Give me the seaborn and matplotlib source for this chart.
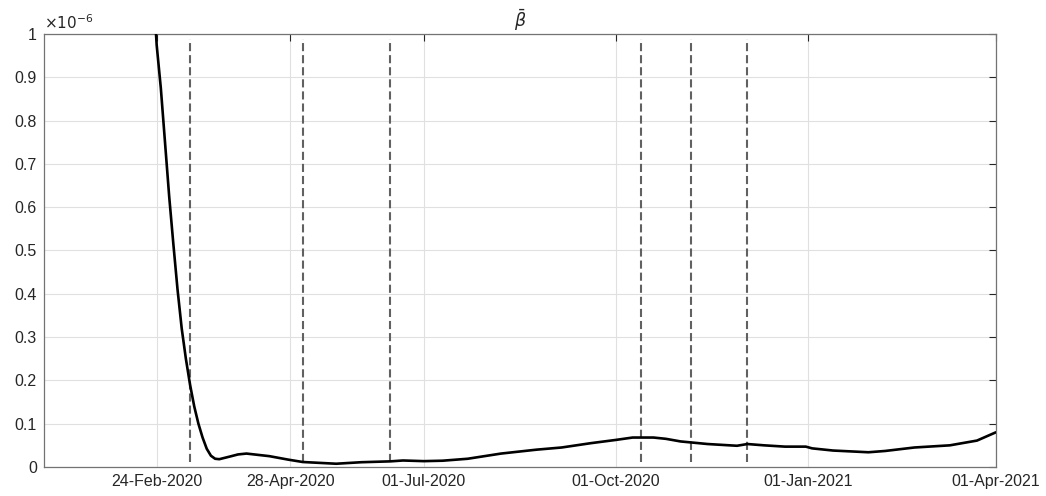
import matplotlib
matplotlib.use("Agg")
import matplotlib.pyplot as plt
import matplotlib.dates as mdates
from matplotlib.ticker import FuncFormatter, MultipleLocator
import pandas as pd
import seaborn as sns

# Estimated time-varying transmission rate (beta bar)
dates = [
    "2020-02-22", "2020-02-24", "2020-02-26", "2020-02-28", "2020-03-01",
    "2020-03-03", "2020-03-05", "2020-03-07", "2020-03-09", "2020-03-11",
    "2020-03-13", "2020-03-15", "2020-03-17", "2020-03-19", "2020-03-21",
    "2020-03-23", "2020-03-25", "2020-03-30", "2020-04-03", "2020-04-07",
    "2020-04-18", "2020-04-27", "2020-05-04", "2020-05-12", "2020-05-20",
    "2020-06-01", "2020-06-15", "2020-06-21", "2020-07-01", "2020-07-10",
    "2020-07-22", "2020-08-07", "2020-08-24", "2020-09-05", "2020-09-19",
    "2020-10-01", "2020-10-09", "2020-10-19", "2020-10-25", "2020-11-01",
    "2020-11-14", "2020-11-28", "2020-12-03", "2020-12-11", "2020-12-21",
    "2020-12-31", "2021-01-03", "2021-01-13", "2021-01-30", "2021-02-07",
    "2021-02-21", "2021-03-10", "2021-03-23", "2021-04-01",
]
beta_bar = [
    1.14e-6, 0.975e-6, 0.875e-6, 0.75e-6, 0.625e-6,
    0.515e-6, 0.41e-6, 0.32e-6, 0.25e-6, 0.19e-6,
    0.14e-6, 0.10e-6, 0.068e-6, 0.042e-6, 0.026e-6,
    0.019e-6, 0.018e-6, 0.024e-6, 0.029e-6, 0.031e-6,
    0.025e-6, 0.017e-6, 0.0115e-6, 0.0095e-6, 0.0075e-6,
    0.011e-6, 0.013e-6, 0.015e-6, 0.0135e-6, 0.0145e-6,
    0.019e-6, 0.031e-6, 0.040e-6, 0.045e-6, 0.055e-6,
    0.0625e-6, 0.068e-6, 0.068e-6, 0.065e-6, 0.059e-6,
    0.053e-6, 0.049e-6, 0.053e-6, 0.050e-6, 0.047e-6,
    0.047e-6, 0.043e-6, 0.038e-6, 0.034e-6, 0.037e-6,
    0.045e-6, 0.050e-6, 0.061e-6, 0.080e-6,
]

# Policy change dates (dashed markers)
event_dates = ["2020-03-11", "2020-05-04", "2020-06-15",
               "2020-10-13", "2020-11-06", "2020-12-03"]

tick_dates = ["2020-02-24", "2020-04-28", "2020-07-01",
              "2020-10-01", "2021-01-01", "2021-04-01"]

df = pd.DataFrame({"date": pd.to_datetime(dates), "beta": beta_bar})

sns.set_theme(style="white")
plt.rcParams["font.family"] = ["Liberation Sans", "DejaVu Sans"]
plt.rcParams["mathtext.fontset"] = "dejavusans"

fig = plt.figure(figsize=(10.46, 4.96), dpi=100)
ax = fig.add_axes([0.042, 0.0585, 0.910, 0.873])

dark = (0.15, 0.15, 0.15)

for d in event_dates:
    ax.axvline(pd.Timestamp(d), ymin=0.012, ymax=0.988,
               color=(0.38, 0.38, 0.38), lw=1.5,
               ls=(0, (3.9, 1.9)), zorder=2)

sns.lineplot(data=df, x="date", y="beta", ax=ax, color="black", lw=1.9,
             zorder=3, legend=False)

ax.set_xlim(pd.Timestamp("2020-01-01"), pd.Timestamp("2021-04-01"))
ax.set_ylim(0, 1e-6)

ax.set_xticks(pd.to_datetime(tick_dates))
ax.xaxis.set_major_formatter(mdates.DateFormatter("%d-%b-%Y"))
ax.yaxis.set_major_locator(MultipleLocator(0.1e-6))
ax.yaxis.set_major_formatter(FuncFormatter(lambda v, p: f"{round(v * 1e6, 3):g}"))

ax.grid(True, color=(0.88, 0.88, 0.88), lw=0.8, zorder=0)
ax.set_axisbelow(True)
ax.tick_params(direction="in", length=5, width=0.8, colors=dark,
               labelsize=11.5, top=True, right=True, pad=5)
for s in ax.spines.values():
    s.set_color((0.45, 0.45, 0.45))
    s.set_linewidth(0.9)

ax.set_xlabel("")
ax.set_ylabel("")
ax.set_title(r"$\bar{\beta}$", fontsize=12.5, color=dark, pad=5)
ax.text(0.0, 1.004, r"$\times10^{-6}$", transform=ax.transAxes,
        ha="left", va="bottom", fontsize=11, color=dark)

fig.savefig("out.png", dpi=100)
